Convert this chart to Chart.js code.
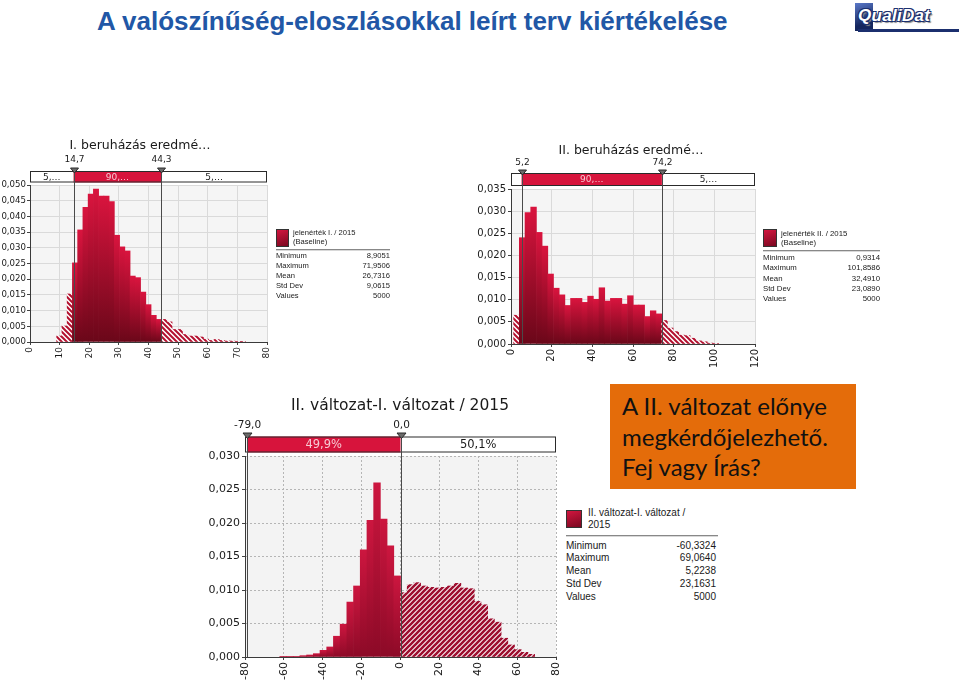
<!DOCTYPE html>
<html lang="hu">
<head>
<meta charset="utf-8">
<title>A valószínűség-eloszlásokkal leírt terv kiértékelése</title>
<script src="https://cdn.jsdelivr.net/npm/chart.js@4.4.1/dist/chart.umd.min.js"></script>
<style>
  html, body { margin: 0; padding: 0; background: #fff; }
  body { position: relative; width: 960px; height: 684px; overflow: hidden; font-family: "Liberation Sans", Arial, sans-serif; }
  canvas { position: absolute; }
  #title { position: absolute; left: 97px; top: 6px; font: bold 26px/30px "Liberation Sans", Arial, sans-serif; color: #2157a6; white-space: nowrap; }
  .stats { position: absolute; color: #1a1a1a; }
  .stats .sw { position: absolute; left: 0; background: linear-gradient(160deg, #d2163f, #7a0820); border: 1px solid #333; box-sizing: border-box; }
  .stats .name { position: absolute; white-space: nowrap; }
  .stats .sep { position: absolute; left: 0; border-top: 1px solid #888; border-bottom: 1px solid #d8d8d8; }
  .stats .row { position: absolute; left: 0; display: flex; justify-content: space-between; white-space: nowrap; }
  #note { position: absolute; left: 610px; top: 384px; width: 246px; height: 105px; background: #e46c0a; box-sizing: border-box; padding: 7px 0 0 12px; font: 24px/30.5px Lato, sans-serif; color: #111; white-space: nowrap; }
  #logo { position: absolute; left: 855px; top: 3px; width: 104px; height: 30px; }
  #logo .sq { position: absolute; left: 0; top: 0; width: 18px; height: 28px; background: linear-gradient(160deg, #5a78c8, #14265e 70%); }
  #logo .txt { position: absolute; left: 3px; top: 3px; font: italic bold 17px "Liberation Sans", sans-serif; color: #fff; letter-spacing: 0.3px;
    text-shadow: -1px -1px 0 #1b2f6e, 1px -1px 0 #1b2f6e, -1px 1px 0 #1b2f6e, 1px 1px 0 #1b2f6e, 2px 2px 1px #888; }
  #logo .bar { position: absolute; left: 3px; top: 26px; width: 101px; height: 3px; background: #1b2f6e; }
</style>
</head>
<body>
<div id="title">A valószínűség-eloszlásokkal leírt terv kiértékelése</div>
<div id="logo"><div class="sq"></div><div class="txt">QualiDat</div><div class="bar"></div></div>

<canvas id="c1" width="280" height="230" style="left:0px;top:135px"></canvas>
<canvas id="c2" width="300" height="235" style="left:470px;top:135px"></canvas>
<canvas id="c3" width="370" height="294" style="left:195px;top:390px"></canvas>

<div id="note">A II. változat előnye<br>megkérdőjelezhető.<br>Fej vagy Írás?</div>

<script>
// ---------- data ----------
const statLabels = ['Minimum', 'Maximum', 'Mean', 'Std Dev', 'Values'];

// I. beruházás (jelenérték I. / 2015)
const title1 = 'I. beruházás eredmé…';
const bins1 = [9.89, 11.66, 13.43, 15.20, 16.97, 18.74, 20.51, 22.28, 24.05, 25.82, 27.59, 29.36,
  31.13, 32.90, 34.67, 36.44, 38.21, 39.98, 41.75, 43.52, 45.29, 47.06, 48.83, 50.60,
  52.37, 54.14, 55.91, 57.68, 59.45, 61.22, 62.99, 64.76, 66.53, 68.30, 70.07, 71.84];
const dens1 = [0.0019, 0.0051, 0.0153, 0.0252, 0.0357, 0.0429, 0.0471, 0.0487, 0.0465, 0.0465, 0.0447, 0.0340,
  0.0303, 0.0290, 0.0210, 0.0205, 0.0159, 0.0119, 0.0085, 0.0072, 0.0072, 0.0064, 0.0040, 0.0040,
  0.0024, 0.0019, 0.0019, 0.0016, 0.0009, 0.0005, 0.0008, 0.0005, 0.0003, 0.0003, 0.0002, 0.0002];
const delims1 = [14.7, 44.3];
const band1 = ['5,…', '90,…', '5,…'];
const xTicks1 = [0, 10, 20, 30, 40, 50, 60, 70, 80];
const yTicks1 = [0, 0.005, 0.010, 0.015, 0.020, 0.025, 0.030, 0.035, 0.040, 0.045, 0.050];
const name1 = ['jelenérték I. / 2015', '(Baseline)'];
const stats1 = ['8,9051', '71,9506', '26,7316', '9,0615', '5000'];

// II. beruházás (jelenérték II. / 2015)
const title2 = 'II. beruházás eredmé…';
const bins2 = [2.7, 5.5, 8.3, 11.1, 13.9, 16.7, 19.5, 22.3, 25.1, 27.9, 30.7, 33.5,
  36.3, 39.1, 41.9, 44.7, 47.5, 50.3, 53.1, 55.9, 58.7, 61.5, 64.3, 67.1,
  69.9, 72.7, 75.5, 78.3, 81.1, 83.9, 86.7, 89.5, 92.3, 95.1, 97.9, 100.7];
const dens2 = [0.0065, 0.0240, 0.0297, 0.0309, 0.0252, 0.0221, 0.0158, 0.0126, 0.0111, 0.0087, 0.0103, 0.0103,
  0.0094, 0.0108, 0.0101, 0.0127, 0.0097, 0.0103, 0.0103, 0.0090, 0.0109, 0.0088, 0.0088, 0.0062,
  0.0075, 0.0068, 0.0053, 0.0036, 0.0028, 0.0020, 0.0019, 0.0013, 0.0007, 0.0005, 0.0002, 0.0001];
const delims2 = [5.2, 74.2];
const band2 = ['', '90,…', '5,…'];
const xTicks2 = [0, 20, 40, 60, 80, 100, 120];
const yTicks2 = [0, 0.005, 0.010, 0.015, 0.020, 0.025, 0.030, 0.035];
const name2 = ['jelenérték II. / 2015', '(Baseline)'];
const stats2 = ['0,9314', '101,8586', '32,4910', '23,0890', '5000'];

// II. változat - I. változat / 2015
const title3 = 'II. változat-I. változat / 2015';
const bins3 = [-60.38, -56.93, -53.48, -50.03, -46.58, -43.13, -39.68, -36.23, -32.78, -29.33, -25.88, -22.43,
  -18.98, -15.53, -12.08, -8.63, -5.18, -1.73, 1.73, 5.18, 8.63, 12.08, 15.53, 18.98,
  22.43, 25.88, 29.33, 32.78, 36.23, 39.68, 43.13, 46.58, 50.03, 53.48, 56.93, 60.38, 63.83, 67.28];
const dens3 = [0.0001, 0.0001, 0.0001, 0.0002, 0.0003, 0.0005, 0.0010, 0.0015, 0.0031, 0.0049, 0.0082, 0.0106,
  0.0160, 0.0204, 0.0260, 0.0206, 0.0166, 0.0121, 0.0096, 0.0108, 0.0111, 0.0106, 0.0104, 0.0103,
  0.0104, 0.0106, 0.0110, 0.0103, 0.0102, 0.0083, 0.0078, 0.0057, 0.0052, 0.0028, 0.0018, 0.0011, 0.0007, 0.0004];
const delims3 = [-79.0, 0.0];
const band3 = ['', '49,9%', '50,1%'];
const xTicks3 = [-80, -60, -40, -20, 0, 20, 40, 60, 80];
const yTicks3 = [0, 0.005, 0.010, 0.015, 0.020, 0.025, 0.030];
const name3 = ['II. változat-I. változat /', '2015'];
const stats3 = ['-60,3324', '69,0640', '5,2238', '23,1631', '5000'];

// ---------- helpers ----------
Chart.defaults.font.family = "'DejaVu Sans', sans-serif";
Chart.defaults.color = '#1a1a1a';

const comma = (v, d) => v.toFixed(d).replace('.', ',');

function hatch(dir, s, lw, color) {
  const c = document.createElement('canvas');
  c.width = c.height = s;
  const g = c.getContext('2d');
  g.fillStyle = '#fff';
  g.fillRect(0, 0, s, s);
  g.strokeStyle = color;
  g.lineWidth = lw;
  g.beginPath();
  for (let k = -1; k <= 2; k++) {
    if (dir === '\\') { g.moveTo(-1, -1 + k * s); g.lineTo(s + 1, s + 1 + k * s); }
    else { g.moveTo(-1, k * s + 1); g.lineTo(s + 1, k * s - s - 1); }
  }
  g.stroke();
  return g.createPattern(c, 'repeat');
}

// plot background, title, percentile band and delimiters
const riskPlugin = {
  id: 'risk',
  beforeDraw(chart, args, o) {
    const { ctx, chartArea: a } = chart;
    ctx.save();
    ctx.fillStyle = o.plotBg;
    ctx.fillRect(a.left, a.top, a.right - a.left, a.bottom - a.top);
    ctx.restore();
  },
  afterDraw(chart, args, o) {
    const { ctx, chartArea: a } = chart;
    const x = chart.scales.x;
    const xs = o.delims.map(v => x.getPixelForValue(v));
    ctx.save();
    ctx.textAlign = 'center';
    ctx.textBaseline = 'middle';

    ctx.font = o.titleFont;
    ctx.fillStyle = '#1a1a1a';
    ctx.fillText(o.title, o.titleX, o.titleY);

    const L = a.left, R = a.right, bt = o.bandTop, bb = o.bandBottom;
    ctx.fillStyle = '#fff';
    ctx.fillRect(L, bt, R - L, bb - bt);
    ctx.fillStyle = '#d7143c';
    ctx.fillRect(xs[0], bt, xs[1] - xs[0], bb - bt);
    ctx.strokeStyle = '#2a2a2a';
    ctx.lineWidth = 1;
    ctx.strokeRect(L + 0.5, bt + 0.5, R - L - 1, bb - bt - 1);

    ctx.font = o.bandFont;
    const segs = [[L, xs[0]], [xs[0], xs[1]], [xs[1], R]];
    segs.forEach((s, i) => {
      if (!o.bandLabels[i]) return;
      ctx.fillStyle = i === 1 ? '#f7c9d2' : '#1a1a1a';
      ctx.fillText(o.bandLabels[i], (s[0] + s[1]) / 2, (bt + bb) / 2 + 0.5);
    });

    xs.forEach((px, i) => {
      const xx = Math.round(px) + 0.5;
      ctx.strokeStyle = '#4a4a4a';
      ctx.lineWidth = 1;
      ctx.beginPath();
      ctx.moveTo(xx, bt);
      ctx.lineTo(xx, a.bottom);
      ctx.stroke();
      ctx.fillStyle = '#6a6a6a';
      ctx.strokeStyle = '#2a2a2a';
      ctx.beginPath();
      ctx.moveTo(xx - o.tri, bt - o.tri + 1);
      ctx.lineTo(xx + o.tri, bt - o.tri + 1);
      ctx.lineTo(xx, bt + 2);
      ctx.closePath();
      ctx.fill();
      ctx.stroke();
      ctx.fillStyle = '#1a1a1a';
      ctx.font = o.delimFont;
      ctx.fillText(comma(o.delims[i], 1), xx, o.delimY);
    });
    ctx.restore();
  }
};

function makeChart(id, c) {
  const [lo, hi] = c.delims;
  const fill = ctx => {
    const ch = ctx.chart, p = ctx.parsed;
    if (!ch.chartArea || !p) return c.top;
    if (p.x < lo || p.x > hi) return c.pattern;
    const y = ch.scales.y;
    const g = ch.ctx.createLinearGradient(0, y.getPixelForValue(p.y), 0, y.getPixelForValue(0));
    g.addColorStop(0, c.top);
    g.addColorStop(1, c.bottom);
    return g;
  };
  return new Chart(document.getElementById(id), {
    type: 'bar',
    data: {
      datasets: [{
        data: c.bins.map((b, i) => ({ x: b, y: c.dens[i] })),
        backgroundColor: fill,
        borderWidth: 0,
        barPercentage: 1,
        categoryPercentage: 1
      }]
    },
    options: {
      responsive: false,
      animation: false,
      layout: { padding: { left: 0, top: c.padTop, right: c.padRight, bottom: 0 } },
      plugins: {
        legend: { display: false },
        tooltip: { enabled: false },
        risk: {
          plotBg: c.plotBg, title: c.title, titleFont: c.titleFont, titleX: c.titleX, titleY: c.titleY,
          delims: c.delims, delimFont: c.delimFont, delimY: c.delimY, tri: c.tri,
          bandLabels: c.bandLabels, bandFont: c.bandFont, bandTop: c.bandTop, bandBottom: c.bandBottom
        }
      },
      scales: {
        x: {
          type: 'linear',
          offset: false,
          min: c.xTicks[0],
          max: c.xTicks[c.xTicks.length - 1],
          grid: { color: c.gridColor, tickColor: '#444', tickLength: 3, offset: false },
          border: { color: '#3a3a3a', dash: c.dash },
          ticks: { font: { size: c.tickSize }, padding: 2, maxRotation: 90, minRotation: 90, callback: v => String(v) },
          afterBuildTicks: s => { s.ticks = c.xTicks.map(v => ({ value: v })); },
          afterFit: s => { s.height = c.xAxisH; s.paddingLeft = 0; s.paddingRight = 0; }
        },
        y: {
          min: 0,
          max: c.yTicks[c.yTicks.length - 1],
          grid: { color: c.gridColor, tickColor: '#444', tickLength: 3 },
          border: { color: '#3a3a3a', dash: c.dash },
          ticks: { font: { size: c.yTickSize || c.tickSize }, padding: c.yPad, callback: v => comma(v, 3) },
          afterBuildTicks: s => { s.ticks = c.yTicks.map(v => ({ value: v })); },
          afterFit: s => { s.width = c.yAxisW; s.paddingTop = 0; s.paddingBottom = 0; }
        }
      }
    },
    plugins: [riskPlugin]
  });
}

function statsBlock(p, name, values) {
  const d = document.createElement('div');
  d.className = 'stats';
  d.style.cssText = `left:${p.left}px;top:${p.top}px;width:${p.width}px;font-size:${p.font}px;`;
  let html = `<div class="sw" style="top:${p.swTop}px;width:${p.swW}px;height:${p.swH}px"></div>`;
  html += `<div class="name" style="left:${p.nameLeft}px;top:${p.nameTop}px;line-height:${p.nameLH}px">${name.join('<br>')}</div>`;
  html += `<div class="sep" style="top:${p.sepTop}px;width:${p.sepW}px"></div>`;
  statLabels.forEach((l, i) => {
    html += `<div class="row" style="top:${p.rowTop + i * p.rowH}px;width:${p.width}px;line-height:${p.rowH}px"><span>${l}</span><span>${values[i]}</span></div>`;
  });
  d.innerHTML = html;
  document.body.appendChild(d);
}

// ---------- charts ----------
makeChart('c1', {
  bins: bins1, dens: dens1, delims: delims1, bandLabels: band1, xTicks: xTicks1, yTicks: yTicks1,
  title: title1, titleFont: "12.5px 'DejaVu Sans'", titleX: 140, titleY: 11,
  delimFont: "9px 'DejaVu Sans'", delimY: 25, tri: 4, bandFont: "9px 'DejaVu Sans'", bandTop: 36, bandBottom: 47.5,
  padTop: 50, padRight: 13, yAxisW: 30, xAxisH: 23, tickSize: 9, yTickSize: 8.6, yPad: 1,
  plotBg: '#f5f5f5', gridColor: '#dadada', dash: [],
  top: '#d9143e', bottom: '#6a0719', pattern: hatch('\\', 5, 2, '#b3102f')
});

makeChart('c2', {
  bins: bins2, dens: dens2, delims: delims2, bandLabels: band2, xTicks: xTicks2, yTicks: yTicks2,
  title: title2, titleFont: "12.5px 'DejaVu Sans'", titleX: 161, titleY: 16,
  delimFont: "9px 'DejaVu Sans'", delimY: 28, tri: 4, bandFont: "9px 'DejaVu Sans'", bandTop: 38, bandBottom: 51,
  padTop: 54, padRight: 15, yAxisW: 41, xAxisH: 26, tickSize: 10, yPad: 2,
  plotBg: '#f5f5f5', gridColor: '#dadada', dash: [],
  top: '#d9143e', bottom: '#6a0719', pattern: hatch('\\', 5, 2, '#b3102f')
});

makeChart('c3', {
  bins: bins3, dens: dens3, delims: delims3, bandLabels: band3, xTicks: xTicks3, yTicks: yTicks3,
  title: title3, titleFont: "15.5px 'DejaVu Sans'", titleX: 205, titleY: 16,
  delimFont: "10.5px 'DejaVu Sans'", delimY: 35, tri: 4.5, bandFont: "11.5px 'DejaVu Sans'", bandTop: 46.5, bandBottom: 62.5,
  padTop: 66, padRight: 9, yAxisW: 50, xAxisH: 27, tickSize: 11, yPad: 2,
  plotBg: '#f3f3f3', gridColor: '#b5b5b5', dash: [2, 2],
  top: '#cc163f', bottom: '#8c0a27', pattern: hatch('/', 5, 2.6, '#9e0f30')
});

// ---------- statistics panels ----------
statsBlock({ left: 276, top: 228, width: 114, sepW: 114, font: 7.6, swTop: 1, swW: 13, swH: 18,
  nameLeft: 17, nameTop: 0, nameLH: 9, sepTop: 21, rowTop: 23, rowH: 10 }, name1, stats1);
statsBlock({ left: 763, top: 228, width: 117, sepW: 117, font: 7.8, swTop: 1, swW: 14, swH: 18,
  nameLeft: 18, nameTop: 0.5, nameLH: 9, sepTop: 22, rowTop: 25, rowH: 10.25 }, name2, stats2);
statsBlock({ left: 566, top: 508, width: 150, sepW: 152, font: 10, swTop: 2, swW: 16, swH: 18,
  nameLeft: 22, nameTop: -1, nameLH: 12, sepTop: 27, rowTop: 31.5, rowH: 12.75 }, name3, stats3);
</script>
</body>
</html>
